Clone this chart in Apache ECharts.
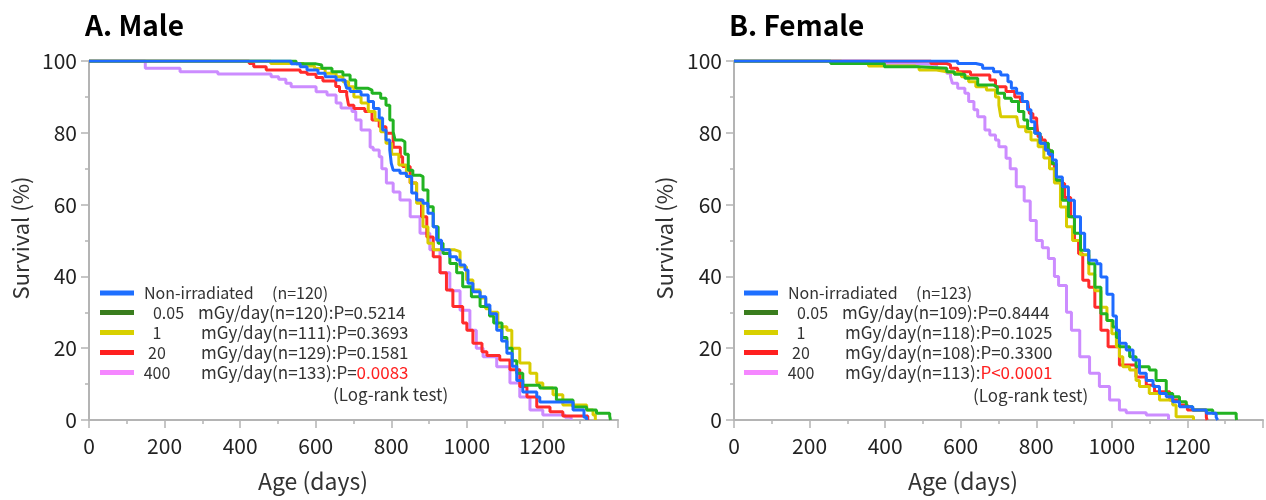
<!DOCTYPE html>
<html>
<head>
<meta charset="utf-8">
<script src="https://cdn.jsdelivr.net/npm/echarts@6/dist/echarts.min.js"></script>
<style>
html,body{margin:0;padding:0;background:#fff;}
#c{width:1266px;height:500px;}
</style>
</head>
<body>
<div id="c"></div>
<script>
// ---------- data (age in days, survival %) ----------
const xTicks = [0, 200, 400, 600, 800, 1000, 1200];
const yTicks = [0, 20, 40, 60, 80, 100];

const doses = ['Non-irradiated', '0.05', '1', '20', '400'];
const maleN = [120, 120, 111, 129, 133];
const maleP = ['', 'P=0.5214', 'P=0.3693', 'P=0.1581', '0.0083'];
const femaleN = [123, 109, 118, 108, 113];
const femaleP = ['', 'P=0.8444', 'P=0.1025', 'P=0.3300', 'P<0.0001'];

const maleNon = [[0,100],[535,99.2],[559,98.4],[577,97.5],[606,96.6],[625,95.6],[654,94.7],[678,93.8],[682,92.4],[691,91.5],[720,90.5],[739,88.7],[753,86.8],[768,84.1],[777,80.8],[786,78],[796,75.2],[800,71.5],[805,69.6],[823,68.7],[840,67.8],[854,63.2],[867,61.3],[884,60.4],[897,57.6],[911,53.8],[920,50.1],[933,47.4],[955,45.5],[973,44.6],[982,43.2],[995,41.8],[1003,38.1],[1016,35.7],[1035,34.3],[1050,32],[1061,29.6],[1079,25],[1092,22],[1106,18.6],[1120,15],[1132,11],[1148,7.8],[1185,6.4],[1193,5],[1281,2.8],[1310,0.8],[1317,0]];
const male005 = [[0,100],[548,99.2],[601,98.9],[616,98],[643,97],[672,96.1],[691,94.7],[706,92.4],[739,91.9],[749,91],[772,89.6],[786,87.7],[796,83.6],[805,80.3],[810,78],[828,77.5],[836,74],[845,69.6],[857,68.2],[876,67.8],[884,64.1],[897,59.4],[911,53.8],[924,49.2],[937,46.4],[955,43.6],[973,41],[989,37.1],[1012,34.3],[1035,31.6],[1060,29],[1071,27],[1093,23],[1106,20],[1120,16.5],[1132,13],[1148,9.7],[1193,8.9],[1237,5.6],[1281,3.6],[1317,2.8],[1343,1.9],[1378,1.1],[1380,0]];
const male1 = [[0,100],[481,99.3],[568,98.6],[597,97.9],[625,96.6],[654,95.6],[672,94.2],[687,92.8],[701,90],[720,88.3],[739,85.9],[757,83.6],[772,80.3],[786,77.1],[801,74],[820,71],[840,68],[850,66],[867,60.4],[884,53.8],[897,49.2],[911,47.4],[968,46.9],[982,42.7],[999,39],[1016,36.2],[1035,34],[1050,31],[1061,30],[1082,26],[1106,25],[1119,20],[1140,15.9],[1167,13],[1185,10.3],[1201,8.9],[1228,7],[1254,4.2],[1317,2.8],[1334,1.4],[1340,0]];
const male20 = [[0,100],[424,99.3],[436,98.4],[469,97.5],[559,96.9],[577,96.3],[601,95.4],[619,94.4],[653,92.9],[663,91.5],[682,90.5],[687,87.7],[701,86.8],[730,85.9],[749,83.6],[768,81.7],[786,79.9],[805,76],[824,73.3],[830,70.6],[850,66],[867,61.3],[880,56.6],[894,51],[911,45.5],[929,41],[946,36.2],[963,31.6],[989,27],[1000,25],[1016,21.4],[1040,19],[1053,18],[1087,16.7],[1114,14],[1140,9.3],[1159,6.4],[1185,3.6],[1220,2.3],[1254,1.1],[1320,0]];
const male400 = [[0,100],[149,98],[241,97],[341,96.4],[482,95.6],[502,94.9],[521,93.8],[535,92.8],[601,91.4],[630,90.5],[654,88.3],[667,86.9],[696,85.9],[706,83.6],[720,80.8],[744,76],[752,75.2],[768,73.3],[775,70],[787,66],[805,63.5],[823,61.3],[850,56.6],[876,52],[902,47.4],[929,41],[955,36],[982,30.6],[1008,25],[1025,20],[1043,17.6],[1079,14.8],[1114,10.3],[1140,6.4],[1167,2.8],[1201,1.4],[1260,0.8],[1276,0]];

const femaleNon = [[0,100],[592,99.3],[640,98.9],[658,98],[687,97],[706,96.1],[725,94.2],[734,92.4],[748,91],[763,88.7],[777,86.4],[786,83.1],[796,79.9],[810,77.1],[824,75.2],[832,74],[843,72.4],[853,67.7],[869,65],[885,61.2],[901,56.6],[917,52],[928,47.3],[939,44.5],[960,43.5],[971,39.8],[987,35],[1003,29],[1012,25],[1020,21.4],[1038,19.5],[1056,16.7],[1073,13],[1091,11],[1109,9.3],[1126,7.4],[1144,6.5],[1161,5.1],[1179,3.7],[1214,2.8],[1250,1.9],[1276,0.8],[1280,0]];
const female005 = [[0,100],[256,99.3],[398,98.4],[488,98],[563,97],[583,96.3],[611,95.2],[645,93.3],[687,92.8],[697,91],[716,89.6],[734,88.7],[753,85.9],[767,83.6],[777,81.2],[796,79.9],[810,77.1],[832,75],[843,71.4],[853,66.8],[869,61.2],[885,56.6],[901,52],[917,47.3],[939,43.5],[955,37],[971,29.6],[987,27.7],[1003,25.9],[1012,23],[1020,20.4],[1047,17.6],[1064,14.8],[1099,13.9],[1117,11],[1144,7.4],[1161,6.5],[1179,5.1],[1197,3.7],[1214,2.8],[1267,1.9],[1329,0.8],[1330,0]];
const female1 = [[0,100],[284,99.3],[356,98.6],[478,98.3],[490,97.5],[536,97],[563,96.6],[602,95.6],[621,94.2],[640,92.8],[668,91.9],[692,90],[701,87.7],[706,84.5],[748,84],[753,81.7],[772,80.3],[786,78],[805,76.1],[820,73],[835,70],[848,66],[864,59.3],[880,53.8],[896,50],[917,46],[939,40.7],[955,36],[971,31.4],[987,27.7],[1000,24],[1012,20.4],[1020,17.6],[1029,14.8],[1047,13.9],[1064,11],[1073,9.3],[1099,7.4],[1126,5.6],[1161,4.2],[1170,0.9],[1216,0]];
const female20 = [[0,100],[521,99.3],[563,98.9],[573,98],[592,97],[626,96.1],[677,94.7],[692,92.8],[720,91.5],[743,90],[758,88.7],[777,88.3],[782,85.4],[791,84.1],[801,82.6],[805,78.9],[814,78],[824,75.2],[837,71.4],[848,66.8],[864,65.9],[875,62],[891,56.6],[901,50],[912,46.3],[923,38.9],[939,37],[955,31.4],[971,25],[990,20.4],[1020,15.3],[1064,12],[1091,9.7],[1113,7.9],[1153,5.6],[1179,4.2],[1200,2.8],[1250,0.8],[1252,0]];
const female400 = [[0,100],[359,99.3],[478,99],[536,98],[563,96.6],[573,95.6],[578,93.8],[592,92.4],[611,91],[621,88.7],[635,86.4],[645,84.5],[664,80.8],[677,79.4],[692,78],[701,76.1],[720,72.9],[731,70],[747,65],[768,61],[784,55.6],[800,50],[816,48],[832,45],[848,40],[859,37.5],[880,30],[893,25],[915,17.6],[941,13],[967,9.3],[994,5.6],[1020,2.8],[1038,2],[1091,1.4],[1150,0]];

// ---------- styles ----------
const FONT = '"Noto Sans CJK JP", "Noto Sans", sans-serif';
const lineColors = ['#1e6bff', '#22b322', '#d8cc00', '#ff2b2b', '#cc8cff'];
const legendColors = ['#1e6fff', '#3a7d1e', '#d8d000', '#ff2020', '#f587ff'];
const TXT = '#333';

const maleData = [maleNon, male005, male1, male20, male400];
const femaleData = [femaleNon, female005, female1, female20, female400];

function seriesName(sex, i) { return sex + ' ' + doses[i]; }

function labelFor(ns, ps, i) {
  if (i === 0) return '{a|' + doses[0] + '}{t|(n=' + ns[0] + ')}';
  const dStyle = i === 1 ? 'd1' : 'd2';
  const mStyle = i === 1 ? 'm1' : 'm2';
  if (i === 4) {
    if (ps[4].indexOf('<') >= 0) {
      return '{' + dStyle + '|' + doses[i] + '}{' + mStyle + '|mGy/day(n=' + ns[i] + '):}{r|' + ps[i] + '}';
    }
    return '{' + dStyle + '|' + doses[i] + '}{' + mStyle + '|mGy/day(n=' + ns[i] + '):P=}{r|' + ps[i] + '}';
  }
  return '{' + dStyle + '|' + doses[i] + '}{' + mStyle + '|mGy/day(n=' + ns[i] + '):' + ps[i] + '}';
}

function rs(extra) {
  return Object.assign({ fontSize: 16, color: TXT, fontFamily: FONT }, extra || {});
}
const rich = {
  a: rs({ width: 128, padding: [0, 0, 0, 5] }),
  t: rs(),
  d1: rs({ width: 49, align: 'right', padding: [0, 0, 0, 5] }),
  d2: rs({ width: 26, align: 'right', padding: [0, 0, 0, 5] }),
  m1: rs({ fontSize: 17, padding: [0, 0, 0, 5] }),
  m2: rs({ fontSize: 17, padding: [0, 0, 0, 31] }),
  r: rs({ fontSize: 17, color: '#ff2020' })
};

const labelMap = {};
for (let i = 0; i < 5; i++) {
  labelMap[seriesName('Male', i)] = labelFor(maleN, maleP, i);
  labelMap[seriesName('Female', i)] = labelFor(femaleN, femaleP, i);
}

function makeLegend(sex, left) {
  return {
    orient: 'vertical', left: left, top: 285, padding: 0,
    itemWidth: 34, itemHeight: 5, itemGap: 3, icon: 'rect',
    selectedMode: false,
    data: [0, 1, 2, 3, 4].map(i => ({ name: seriesName(sex, i), itemStyle: { color: legendColors[i] } })),
    formatter: name => labelMap[name],
    textStyle: { rich: rich, fontSize: 16, fontFamily: FONT, color: TXT }
  };
}

function makeX(gi) {
  return {
    type: 'value', gridIndex: gi, min: 0, max: 1400, interval: 200,
    axisLine: { show: true, lineStyle: { color: '#b4b4b4', width: 2 } },
    axisTick: { show: true, length: 8, lineStyle: { color: '#b4b4b4', width: 1.5 } },
    minorTick: { show: true, splitNumber: 2, length: 4, lineStyle: { color: '#b4b4b4', width: 1.5 } },
    splitLine: { show: false },
    axisLabel: { fontSize: 21, color: '#222', fontFamily: FONT, margin: 16, showMaxLabel: false,
      formatter: v => (xTicks.indexOf(v) >= 0 ? String(v) : '') }
  };
}
function makeY(gi) {
  return {
    type: 'value', gridIndex: gi, min: 0, max: 100, interval: 20,
    axisLine: { show: true, lineStyle: { color: '#b4b4b4', width: 2 } },
    axisTick: { show: true, length: 8, lineStyle: { color: '#b4b4b4', width: 1.5 } },
    minorTick: { show: true, splitNumber: 2, length: 4, lineStyle: { color: '#b4b4b4', width: 1.5 } },
    splitLine: { show: false },
    axisLabel: { fontSize: 21, color: '#222', fontFamily: FONT, margin: 12,
      formatter: v => (yTicks.indexOf(v) >= 0 ? String(v) : '') }
  };
}

const series = [];
[['Male', maleData, 0], ['Female', femaleData, 1]].forEach(([sex, arr, gi]) => {
  for (let i = 4; i >= 0; i--) {
    series.push({
      name: seriesName(sex, i), type: 'line', step: 'end',
      xAxisIndex: gi, yAxisIndex: gi, data: arr[i],
      showSymbol: false, symbol: 'none', silent: true,
      lineStyle: { color: lineColors[i], width: 3 },
      itemStyle: { color: lineColors[i] }
    });
  }
});

function txt(text, x, y, size, opts) {
  return {
    type: 'text', x: x, y: y,
    style: Object.assign({ text: text, fontSize: size, fontFamily: FONT, fill: TXT,
      textAlign: 'center', textVerticalAlign: 'middle' }, opts || {})
  };
}

const option = {
  animation: false,
  backgroundColor: '#fff',
  title: [
    { text: 'A. Male', left: 80, top: 6, textStyle: { fontSize: 28, fontWeight: 'bold', color: '#000', fontFamily: FONT } },
    { text: 'B. Female', left: 724, top: 6, textStyle: { fontSize: 28, fontWeight: 'bold', color: '#000', fontFamily: FONT } }
  ],
  grid: [
    { left: 89, top: 61, width: 529, height: 359 },
    { left: 734, top: 61, width: 529, height: 359 }
  ],
  xAxis: [makeX(0), makeX(1)],
  yAxis: [makeY(0), makeY(1)],
  legend: [makeLegend('Male', 100), makeLegend('Female', 744)],
  series: series,
  graphic: [
    txt('(Log-rank test)', 333, 395, 17, { textAlign: 'left' }),
    txt('(Log-rank test)', 973, 396, 17, { textAlign: 'left' }),
    txt('Age (days)', 313, 481, 23),
    txt('Age (days)', 963, 481, 23),
    Object.assign(txt('Survival (%)', 0, 0, 22), { x: 21, y: 238, rotation: Math.PI / 2 }),
    Object.assign(txt('Survival (%)', 0, 0, 22), { x: 665, y: 238, rotation: Math.PI / 2 })
  ]
};

const chart = echarts.init(document.getElementById('c'), null, { renderer: 'canvas' });
chart.setOption(option);
</script>
</body>
</html>
